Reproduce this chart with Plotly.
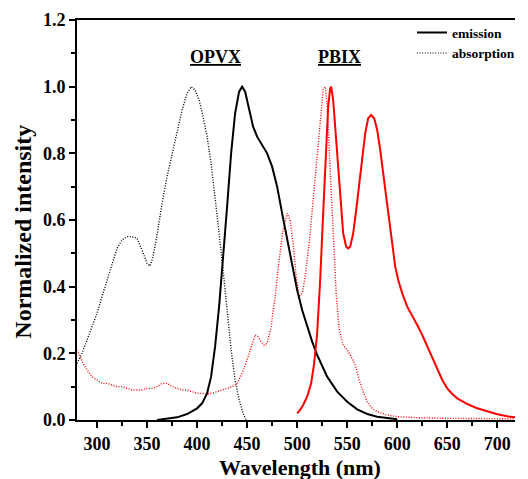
import plotly.graph_objects as go

# OPVX absorption (black dotted)
opvx_abs_x = [280, 285, 290, 295, 300, 305, 310, 315, 320, 325, 330, 335, 340, 345, 350, 353, 356, 360,
              365, 370, 375, 380, 385, 390, 394, 398, 402, 406, 410, 414, 418, 422, 426, 430, 434, 438,
              442, 446, 449]
opvx_abs_y = [0.17, 0.20, 0.24, 0.28, 0.32, 0.37, 0.42, 0.47, 0.515, 0.54, 0.55, 0.55, 0.545, 0.51, 0.47,
              0.462, 0.49, 0.555, 0.65, 0.73, 0.80, 0.87, 0.93, 0.98, 1.0, 0.99, 0.96, 0.91, 0.85, 0.77,
              0.67, 0.56, 0.45, 0.33, 0.21, 0.12, 0.06, 0.02, 0.0]

# OPVX emission (black solid)
opvx_em_x = [360, 370, 380, 390, 400, 405, 410, 414, 418, 422, 426, 430, 434, 438, 442, 445, 448, 452,
             456, 460, 465, 470, 475, 480, 485, 490, 495, 500, 505, 510, 515, 520, 525, 530, 540, 550,
             560, 570, 580, 590, 600]
opvx_em_y = [0.0, 0.003, 0.008, 0.018, 0.035, 0.05, 0.08, 0.13, 0.22, 0.34, 0.48, 0.64, 0.80, 0.92,
             0.985, 1.0, 0.985, 0.93, 0.88, 0.85, 0.825, 0.80, 0.76, 0.70, 0.62, 0.54, 0.46, 0.39, 0.33,
             0.28, 0.235, 0.195, 0.16, 0.13, 0.085, 0.055, 0.032, 0.018, 0.01, 0.005, 0.002]

# PBIX absorption (red dotted)
pbix_abs_x = [280, 283, 286, 290, 295, 300, 305, 310, 315, 320, 325, 330, 335, 340, 345, 350, 355, 360,
              365, 370, 375, 380, 385, 390, 395, 400, 405, 410, 415, 420, 425, 430, 435, 440, 445, 450,
              455, 458, 461, 464, 467, 470, 474, 478, 482, 486, 490, 493, 496, 499, 502, 505, 508, 512,
              516, 520, 523, 526, 528, 530, 533, 536, 539, 542, 546, 550, 554, 558, 562, 566, 570, 575,
              580, 590, 600, 620, 650, 700, 725]
pbix_abs_y = [0.21, 0.19, 0.17, 0.15, 0.13, 0.12, 0.11, 0.11, 0.105, 0.10, 0.10, 0.095, 0.09, 0.09, 0.09,
              0.095, 0.095, 0.10, 0.11, 0.11, 0.10, 0.095, 0.09, 0.09, 0.085, 0.08, 0.08, 0.078, 0.08,
              0.085, 0.09, 0.095, 0.10, 0.11, 0.14, 0.18, 0.23, 0.255, 0.25, 0.235, 0.225, 0.23, 0.28,
              0.37, 0.48, 0.57, 0.62, 0.60, 0.53, 0.43, 0.37, 0.38, 0.43, 0.53, 0.66, 0.80, 0.91, 0.99,
              1.0, 0.95, 0.75, 0.55, 0.38, 0.27, 0.225, 0.21, 0.19, 0.165, 0.12, 0.085, 0.055, 0.035,
              0.025, 0.015, 0.01, 0.007, 0.005, 0.004, 0.003]

# PBIX emission (red solid)
pbix_em_x = [500, 503, 506, 510, 514, 517, 520, 523, 526, 529, 531, 533, 534, 536, 538, 540, 543, 546,
             549, 551, 553, 556, 559, 562, 565, 568, 571, 574, 577, 580, 583, 586, 589, 592, 595, 598,
             601, 605, 610, 615, 620, 625, 630, 635, 640, 645, 650, 655, 660, 670, 680, 690, 700, 710,
             720, 725]
pbix_em_y = [0.02, 0.03, 0.045, 0.07, 0.11, 0.17, 0.26, 0.42, 0.62, 0.83, 0.94, 0.995, 1.0, 0.96, 0.88,
             0.79, 0.66, 0.56, 0.52, 0.515, 0.52, 0.56, 0.63, 0.71, 0.79, 0.86, 0.905, 0.915, 0.905,
             0.87, 0.81, 0.74, 0.66, 0.59, 0.52, 0.46, 0.42, 0.38, 0.34, 0.31, 0.285, 0.255, 0.22,
             0.185, 0.15, 0.12, 0.095, 0.078, 0.065, 0.048, 0.035, 0.025, 0.017, 0.011, 0.007, 0.005]

FONT = 'Liberation Serif'
FINE_DOT = '1px,1.6px'

fig = go.Figure()
fig.add_trace(go.Scatter(x=opvx_abs_x, y=opvx_abs_y, mode='lines', showlegend=False,
                         line=dict(color='black', width=1.4, dash=FINE_DOT)))
fig.add_trace(go.Scatter(x=pbix_abs_x, y=pbix_abs_y, mode='lines', showlegend=False,
                         line=dict(color='red', width=1.4, dash=FINE_DOT)))
fig.add_trace(go.Scatter(x=opvx_em_x, y=opvx_em_y, mode='lines', showlegend=False,
                         line=dict(color='black', width=2)))
fig.add_trace(go.Scatter(x=pbix_em_x, y=pbix_em_y, mode='lines', showlegend=False,
                         line=dict(color='red', width=2)))

# legend entries (black keys)
fig.add_trace(go.Scatter(x=[None], y=[None], mode='lines', name='emission',
                         line=dict(color='black', width=2)))
fig.add_trace(go.Scatter(x=[None], y=[None], mode='lines', name='absorption',
                         line=dict(color='black', width=1, dash=FINE_DOT)))

for txt, xpos in [('OPVX', 418), ('PBIX', 542)]:
    fig.add_annotation(x=xpos, y=1.09, text='<b>' + txt + '</b>', showarrow=False,
                       font=dict(family=FONT, size=18, color='black', lineposition='under'))

# axis titles as annotations so they can sit where the original has them
fig.add_annotation(xref='paper', yref='paper', x=0.508, y=-0.1175, text='Wavelength (nm)',
                   showarrow=False, xanchor='center', yanchor='middle',
                   font=dict(family=FONT, size=22, color='black', weight='bold'))
fig.add_annotation(xref='paper', yref='paper', x=-0.124, y=0.47, text='Normalized intensity',
                   showarrow=False, textangle=-90, xanchor='center', yanchor='middle',
                   font=dict(family=FONT, size=24, color='black', weight='bold'))

axis_common = dict(showline=True, linecolor='black', linewidth=2, ticks='outside', ticklen=6,
                   tickwidth=1.5, tickcolor='black', showgrid=False, zeroline=False,
                   tickfont=dict(family=FONT, size=18, color='black', weight='bold'),
                   minor=dict(ticks='outside', ticklen=4, tickwidth=1.5, tickcolor='black'))

# the page body has an 8px margin and the plot is fitted to the 512px body width,
# so the x range is cut to keep the original px-per-nm scale
fig.update_layout(
    width=512, height=471,
    margin=dict(l=69, r=0, t=12, b=59),
    plot_bgcolor='white', paper_bgcolor='white',
    xaxis=dict(axis_common, range=[280, 717.7], dtick=50, tick0=300, mirror=True,
               minor_dtick=25),
    yaxis=dict(axis_common, range=[0, 1.2], dtick=0.2, tickformat='.1f', minor_dtick=0.1),
    legend=dict(x=0.765, y=1.007, xanchor='left', yanchor='top', bgcolor='rgba(0,0,0,0)',
                font=dict(family=FONT, size=13.5, color='black', weight='bold'),
                tracegroupgap=0, itemwidth=30),
)

fig.write_html('out.html')
